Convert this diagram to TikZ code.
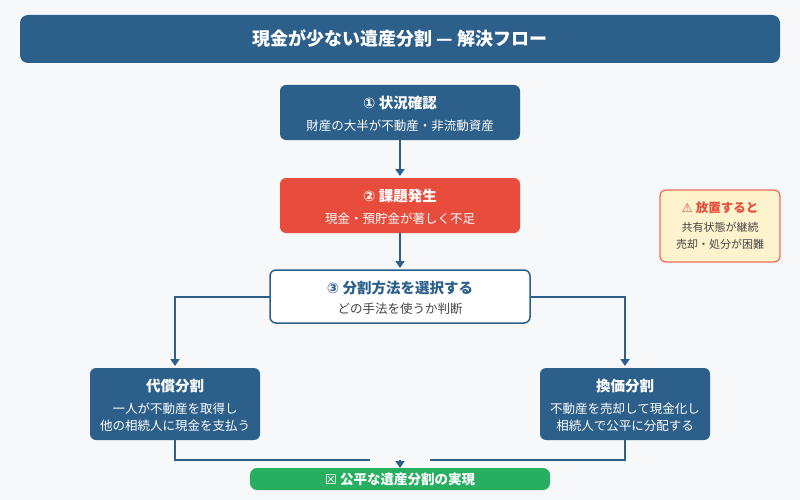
\documentclass[tikz,border=0pt]{standalone}
\usepackage{fontspec}
\setmainfont{Noto Sans CJK JP}
\newfontfamily\sym{DejaVu Sans}
\usetikzlibrary{arrows.meta}
\definecolor{bg}{HTML}{F6F8FA}
\definecolor{navy}{HTML}{2C5F8A}
\definecolor{redb}{HTML}{E74C3C}
\definecolor{grn}{HTML}{27AE60}
\definecolor{warnf}{HTML}{FEF3CD}
\definecolor{warnd}{HTML}{E8705F}
\definecolor{txt}{HTML}{444444}
\begin{document}
\begin{tikzpicture}[x=1pt,y=-1pt,
 con/.style={draw=navy,line width=1.8pt},
 arr/.style={con,-{Triangle[length=7pt,width=9pt]}},
 t/.style={font=\bfseries\fontsize{14.5}{17}\selectfont},
 s/.style={font=\fontsize{12.5}{17}\selectfont}]
\fill[bg] (0,0) rectangle (800,500);
\useasboundingbox (0,0) rectangle (800,500);
\fill[navy,rounded corners=8pt] (20,15) rectangle (780,63);
\node[white,font=\bfseries\fontsize{18}{20}\selectfont] (title) at (400,39) {現金が少ない遺産分割 — 解決フロー};
\fill[navy,rounded corners=6pt] (280,85) rectangle (520,140);
\node[white,t] (b1) at (400,103) {{\sym ①} 状況確認};
\node[white,s] at (400,126) {財産の大半が不動産・非流動資産};
\fill[redb,rounded corners=6pt] (280,178) rectangle (520,233);
\node[white,t] (b2) at (400,196) {{\sym ②} 課題発生};
\node[white,s] at (400,219) {現金・預貯金が著しく不足};
\draw[navy,fill=white,line width=1.5pt,rounded corners=6pt] (270,270) rectangle (530,323);
\node[navy,t] (b3) at (400,288) {{\sym ③} 分割方法を選択する};
\node[txt,s] at (400,309) {どの手法を使うか判断};
\fill[navy,rounded corners=6pt] (90,368) rectangle (260,440);
\node[white,t] (l) at (175,386) {代償分割};
\node[white,s,align=center] at (175,417) {一人が不動産を取得し\\他の相続人に現金を支払う};
\fill[navy,rounded corners=6pt] (540,368) rectangle (710,440);
\node[white,t] (r) at (625,386) {換価分割};
\node[white,s,align=center] at (625,417) {不動産を売却して現金化し\\相続人で公平に分配する};
\draw[warnd,fill=warnf,line width=1.3pt,rounded corners=6pt] (660,190) rectangle (780,262);
\node[redb,font=\bfseries\fontsize{12.5}{14}\selectfont] (w) at (720,208) {{\sym ⚠} 放置すると};
\node[txt,font=\fontsize{11}{17}\selectfont,align=center] at (720,236) {共有状態が継続\\売却・処分が困難};
\fill[grn,rounded corners=7pt] (250,468) rectangle (550,490);
\node[white,font=\bfseries\fontsize{13.5}{15}\selectfont] (g) at (400,479) {{\sym ☒} 公平な遺産分割の実現};
\draw[arr] (400,140) -- (400,176);
\draw[arr] (400,233) -- (400,268);
\draw[arr] (270,297) -- (175,297) -- (175,366);
\draw[arr] (530,297) -- (625,297) -- (625,366);
\draw[con] (175,440) -- (175,460) -- (370,460);
\draw[con] (625,440) -- (625,460) -- (430,460);
\draw[arr] (400,460) -- (400,468);
\end{tikzpicture}
\end{document}
